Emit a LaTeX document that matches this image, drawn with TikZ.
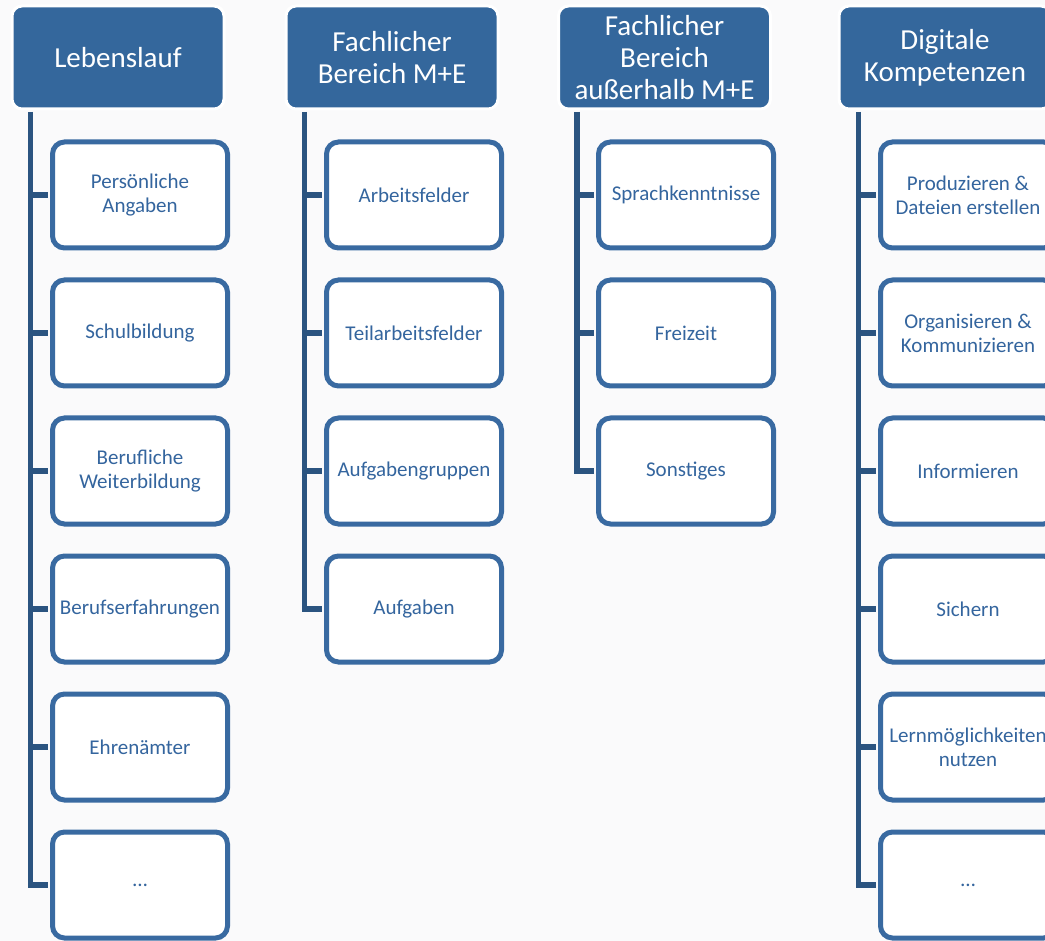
\documentclass[tikz,border=0pt]{standalone}
\usepackage{fontspec}
\setmainfont{Carlito}
\definecolor{bgc}{RGB}{250,250,251}
\definecolor{hdrc}{RGB}{52,103,156}
\definecolor{bxc}{RGB}{57,106,161}
\definecolor{lnc}{RGB}{43,84,128}
\definecolor{txc}{RGB}{52,101,158}
\begin{document}
\begin{tikzpicture}[x=1pt,y=-1pt,
  hdrbox/.style={fill=hdrc, draw=white, line width=3pt, rounded corners=10pt,
    minimum width=212pt, minimum height=103pt, inner sep=0pt, align=center,
    text=white, font=\fontsize{29}{32}\selectfont},
  itembox/.style={fill=white, draw=bxc, line width=5pt, rounded corners=12pt,
    minimum width=175pt, minimum height=106pt, inner sep=0pt, align=center,
    text=txc, font=\fontsize{21}{24}\selectfont},
  conn/.style={draw=lnc, line width=5.5pt}]
\useasboundingbox (0,0) rectangle (1045,941);
\clip (0,0) rectangle (1045,941);
\fill[bgc] (0,0) rectangle (1045,941);

% headers
\node[hdrbox] (h1) at (118,57.5) {Lebenslauf};
\node[hdrbox] (h2) at (392,57.5) {Fachlicher\\Bereich M+E};
\node[hdrbox] (h3) at (664.5,57.5) {Fachlicher\\Bereich\\außerhalb M+E};
\node[hdrbox] (h4) at (945,57.5) {Digitale\\Kompetenzen};

% line tops
\coordinate (l1) at ([xshift=20pt,yshift=-1.5pt]h1.south west);
\coordinate (l2) at ([xshift=20pt,yshift=-1.5pt]h2.south west);
\coordinate (l3) at ([xshift=20pt,yshift=-1.5pt]h3.south west);
\coordinate (l4) at ([xshift=21pt,yshift=-1.5pt]h4.south west);

% column 1
\node[itembox] (b11) at (140,195) {Persönliche\\Angaben};
\node[itembox] (b12) at (140,333) {Schulbildung};
\node[itembox] (b13) at (140,471) {Berufliche\\Weiterbildung};
\node[itembox] (b14) at (140,609) {Berufserfahrungen};
\node[itembox] (b15) at (140,747) {Ehrenämter};
\node[itembox] (b16) at (140,885) {…};

% column 2
\node[itembox] (b21) at (414,195) {Arbeitsfelder};
\node[itembox] (b22) at (414,333) {Teilarbeitsfelder};
\node[itembox] (b23) at (414,471) {Aufgabengruppen};
\node[itembox] (b24) at (414,609) {Aufgaben};

% column 3
\node[itembox] (b31) at (686,195) {Sprachkenntnisse};
\node[itembox] (b32) at (686,333) {Freizeit};
\node[itembox] (b33) at (686,471) {Sonstiges};

% column 4
\node[itembox] (b41) at (968,195) {Produzieren \&\\Dateien erstellen};
\node[itembox] (b42) at (968,333) {Organisieren \&\\Kommunizieren};
\node[itembox] (b43) at (968,471) {Informieren};
\node[itembox] (b44) at (968,609) {Sichern};
\node[itembox] (b45) at (968,747) {Lernmöglichkeiten\\nutzen};
\node[itembox] (b46) at (968,885) {…};

% connectors
\path[conn] (l1) |- ([xshift=-2pt]b16.west);
\foreach \b in {b11,b12,b13,b14,b15}{\path[conn] (l1 |- \b.west) -- ([xshift=-2pt]\b.west);}
\path[conn] (l2) |- ([xshift=-2pt]b24.west);
\foreach \b in {b21,b22,b23}{\path[conn] (l2 |- \b.west) -- ([xshift=-2pt]\b.west);}
\path[conn] (l3) |- ([xshift=-2pt]b33.west);
\foreach \b in {b31,b32}{\path[conn] (l3 |- \b.west) -- ([xshift=-2pt]\b.west);}
\path[conn] (l4) |- ([xshift=-2pt]b46.west);
\foreach \b in {b41,b42,b43,b44,b45}{\path[conn] (l4 |- \b.west) -- ([xshift=-2pt]\b.west);}
\end{tikzpicture}
\end{document}
